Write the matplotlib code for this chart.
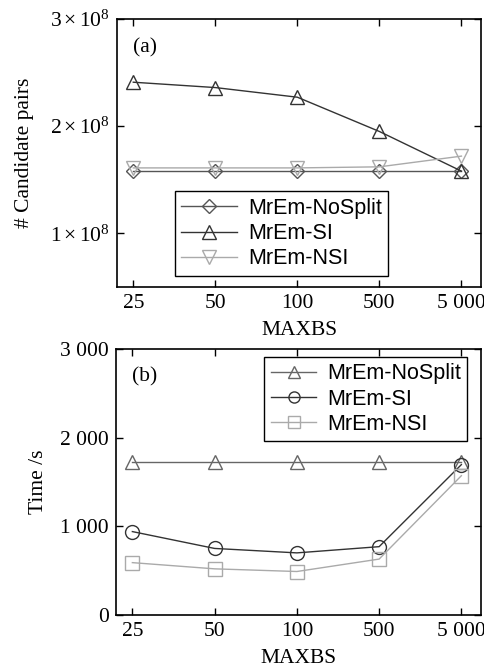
import numpy as np
import matplotlib
matplotlib.use("Agg")
import matplotlib.pyplot as plt

# Data
maxbs = ['25', '50', '100', '500', '5 000']

pairs_nosplit = [1.58e8, 1.58e8, 1.58e8, 1.58e8, 1.58e8]
pairs_si = [2.41e8, 2.36e8, 2.27e8, 1.95e8, 1.58e8]
pairs_nsi = [1.61e8, 1.61e8, 1.61e8, 1.62e8, 1.72e8]

time_nosplit = [1720, 1720, 1720, 1720, 1720]
time_si = [940, 750, 700, 770, 1695]
time_nsi = [590, 520, 490, 630, 1570]

pair_ticks = [1e8, 2e8, 3e8]
pair_ticklabels = [r'$1\times10^8$', r'$2\times10^8$', r'$3\times10^8$']
time_ticks = [0, 1000, 2000, 3000]
time_ticklabels = ['0', '1 000', '2 000', '3 000']

plt.rcParams['font.family'] = ['Liberation Serif', 'DejaVu Serif']
plt.rcParams['mathtext.fontset'] = 'custom'
plt.rcParams['mathtext.rm'] = 'Liberation Serif'
plt.rcParams['mathtext.it'] = 'Liberation Serif:italic'
plt.rcParams['font.size'] = 15.5

fig = plt.figure(figsize=(4.85, 6.67), dpi=100)
ax1 = fig.add_axes([0.241, 0.570, 0.751, 0.4015])
ax2 = fig.add_axes([0.239, 0.078, 0.753, 0.399])

x = np.arange(len(maxbs))
legfont = {'family': 'Liberation Sans', 'size': 15.5}

# (a) candidate pairs
ax1.plot(x, pairs_nosplit, color='#555555', lw=1, marker='D', ms=7,
         mfc='none', mew=1, label='MrEm-NoSplit')
ax1.plot(x, pairs_si, color='#333333', lw=1, marker='^', ms=10,
         mfc='none', mew=1, label='MrEm-SI')
ax1.plot(x, pairs_nsi, color='#aaaaaa', lw=1, marker='v', ms=10,
         mfc='none', mew=1, label='MrEm-NSI')
ax1.set_ylim(0.5e8, 3e8)
ax1.set_yticks(pair_ticks)
ax1.set_yticklabels(pair_ticklabels)
ax1.set_ylabel('# Candidate pairs', labelpad=12)
ax1.text(0.045, 0.93, '(a)', transform=ax1.transAxes, va='top', ha='left')
leg1 = ax1.legend(loc='lower center', bbox_to_anchor=(0.452, 0.041), prop=legfont,
                  fancybox=False, edgecolor='black', framealpha=1,
                  borderpad=0.3, labelspacing=0.2, handlelength=2.6,
                  handletextpad=0.5, borderaxespad=0)
leg1.get_frame().set_linewidth(1)

# (b) time
ax2.plot(x, time_nosplit, color='#666666', lw=1, marker='^', ms=10,
         mfc='none', mew=1, label='MrEm-NoSplit')
ax2.plot(x, time_si, color='#333333', lw=1, marker='o', ms=10,
         mfc='none', mew=1, label='MrEm-SI')
ax2.plot(x, time_nsi, color='#aaaaaa', lw=1, marker='s', ms=10,
         mfc='none', mew=1, label='MrEm-NSI')
ax2.set_ylim(0, 3000)
ax2.set_yticks(time_ticks)
ax2.set_yticklabels(time_ticklabels)
ax2.set_ylabel('Time /s', labelpad=9)
ax2.text(0.045, 0.93, '(b)', transform=ax2.transAxes, va='top', ha='left')
leg2 = ax2.legend(loc='upper right', bbox_to_anchor=(0.962, 0.97), prop=legfont,
                  fancybox=False, edgecolor='black', framealpha=1,
                  borderpad=0.3, labelspacing=0.2, handlelength=2.1,
                  handletextpad=0.5, borderaxespad=0, markerscale=0.8)
leg2.get_frame().set_linewidth(1)

for ax in (ax1, ax2):
    ax.set_xlim(-0.2, 4.24)
    ax.set_xticks(x)
    ax.set_xticklabels(maxbs)
    ax.set_xlabel('MAXBS', labelpad=6)
    ax.tick_params(direction='in', top=True, right=True, length=5, width=1,
                   pad=5)
    for s in ax.spines.values():
        s.set_linewidth(1.2)

fig.savefig('out.png', dpi=100)
